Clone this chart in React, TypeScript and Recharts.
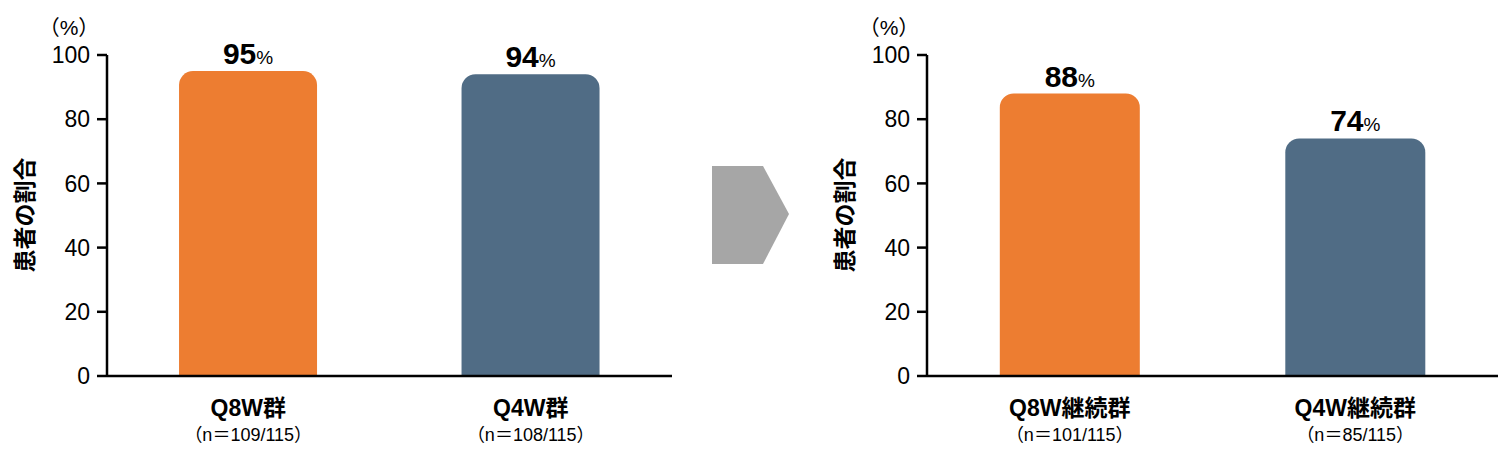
import React from 'react';
import { BarChart, Bar, XAxis, YAxis, Cell, LabelList, Label } from 'recharts';

const leftCategories = ['Q8W群', 'Q4W群'];
const leftCounts = ['（n＝109/115）', '（n＝108/115）'];
const leftValues = [95, 94];

const rightCategories = ['Q8W継続群', 'Q4W継続群'];
const rightCounts = ['（n＝101/115）', '（n＝85/115）'];
const rightValues = [88, 74];

const barColors = ['#ED7D31', '#506C85'];
const yTicks = [0, 20, 40, 60, 80, 100];

const FONT = '"Liberation Sans", Arial, "Noto Sans CJK JP", sans-serif';

interface IPanel {
    categories: string[];
    counts: string[];
    values: number[];
    width: number;
    marginRight: number;
}

const Panel = ({ categories, counts, values, width, marginRight }: IPanel) => {
    const data = categories.map((c, i) => ({ name: c, count: counts[i], value: values[i] }));

    // two-line category tick: bold group name + sample count
    const renderTick = (props: any) => {
        const { x, y, payload } = props;
        const row = data.find(d => d.name === payload.value);
        return (
            <g>
                <text x={x} y={y + 32} textAnchor="middle" fontFamily={FONT} fontSize={23} fontWeight="bold" fill="#000">
                    {payload.value}
                </text>
                <text x={x} y={y + 57} textAnchor="middle" fontFamily={FONT} fontSize={18} fill="#000">
                    {row ? row.count : ''}
                </text>
            </g>
        );
    };

    const renderValue = (props: any) => {
        const { x, y, width: w, value } = props;
        return (
            <text x={x + w / 2} y={y - 7} textAnchor="middle" fontFamily={FONT} fill="#000">
                <tspan fontSize={30} fontWeight="bold">{value}</tspan>
                <tspan fontSize={19}>%</tspan>
            </text>
        );
    };

    const renderAxisTitle = () => (
        <g>
            <text x={25} y={215} transform="rotate(-90 25 215)" textAnchor="middle" dominantBaseline="central"
                fontFamily={FONT} fontSize={23} fontWeight="bold" fill="#000">
                患者の割合
            </text>
            <text x={69} y={35} textAnchor="middle" fontFamily={FONT} fontSize={21} fill="#000">
                （%）
            </text>
        </g>
    );

    return (
        <BarChart width={width} height={455} data={data} barCategoryGap="25.5%"
            margin={{ top: 55, right: marginRight, bottom: 0, left: 50 }}>
            <XAxis dataKey="name" height={79} tick={renderTick} tickLine={false} interval={0}
                axisLine={{ stroke: '#000', strokeWidth: 2.5 }} />
            <YAxis width={57} domain={[0, 100]} ticks={yTicks} interval={0} tickSize={10} tickMargin={7}
                axisLine={{ stroke: '#000', strokeWidth: 2.5 }} tickLine={{ stroke: '#000', strokeWidth: 2.5 }}
                tick={{ fill: '#000', fontSize: 23, fontFamily: FONT }}>
                <Label content={renderAxisTitle} />
            </YAxis>
            <Bar dataKey="value" radius={[14, 14, 0, 0]} isAnimationActive={false}>
                {data.map((d, i) => <Cell key={d.name} fill={barColors[i]} />)}
                <LabelList dataKey="value" content={renderValue} />
            </Bar>
        </BarChart>
    );
};

export default function App() {
    return (
        <div style={{ position: 'absolute', left: 0, top: 0, width: 1500, height: 455, background: '#fff' }}>
            <div style={{ position: 'absolute', left: 0, top: 0 }}>
                <Panel categories={leftCategories} counts={leftCounts} values={leftValues} width={690} marginRight={18} />
            </div>
            <svg style={{ position: 'absolute', left: 0, top: 0 }} width={1500} height={455}>
                <polygon points="712,166 763,166 789,214 763,264 712,264" fill="#A6A6A6" />
            </svg>
            <div style={{ position: 'absolute', left: 820, top: 0 }}>
                <Panel categories={rightCategories} counts={rightCounts} values={rightValues} width={680} marginRight={2} />
            </div>
        </div>
    );
}
